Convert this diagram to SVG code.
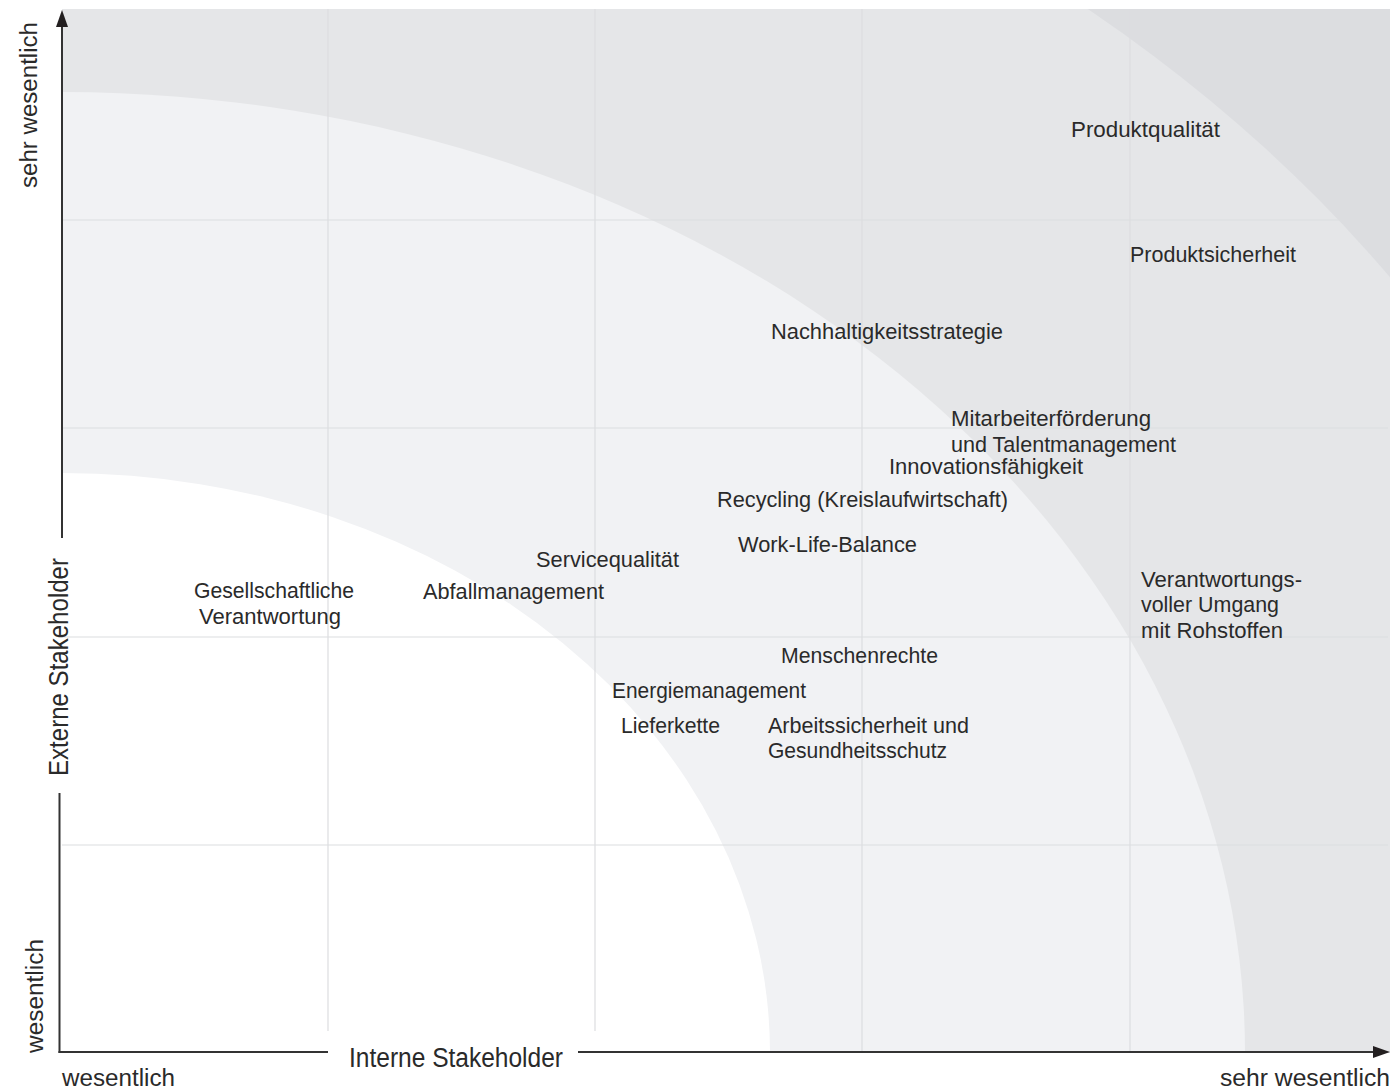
<svg xmlns="http://www.w3.org/2000/svg" width="1392" height="1092" viewBox="0 0 1392 1092">
  <defs>
    <clipPath id="plot">
      <rect x="62" y="9" width="1328" height="1044"/>
    </clipPath>
    <style>
      .lbl { font-family: "Liberation Sans", Arial, sans-serif; font-size: 22px; fill: #2a2a2a; }
      .ax { font-family: "Liberation Sans", Arial, sans-serif; font-size: 27px; fill: #2a2a2a; }
      .sc { font-family: "Liberation Sans", Arial, sans-serif; font-size: 23px; fill: #2a2a2a; }
      .grid { stroke: #dcdde0; stroke-width: 1.2; fill: none; }
      .axis { stroke: #333333; stroke-width: 2; fill: none; }
      .head { fill: #231f20; }
    </style>
  </defs>
  <rect width="1392" height="1092" fill="#ffffff"/>

  <g id="background" clip-path="url(#plot)">
    <rect x="62" y="9" width="1328" height="1044" fill="#dcdde0"/>
    <ellipse cx="62" cy="1053" rx="1625" ry="1346" fill="#e5e6e8"/>
    <ellipse cx="62" cy="1053" rx="1183" ry="961" fill="#f1f2f4"/>
    <ellipse cx="62" cy="1053" rx="708" ry="580" fill="#ffffff"/>
  </g>

  <g id="grid">
    <line class="grid" x1="328" y1="9" x2="328" y2="1031"/>
    <line class="grid" x1="595" y1="9" x2="595" y2="1031"/>
    <line class="grid" x1="862" y1="9" x2="862" y2="1052"/>
    <line class="grid" x1="1130" y1="9" x2="1130" y2="1052"/>
    <line class="grid" x1="62" y1="220" x2="1388" y2="220"/>
    <line class="grid" x1="62" y1="428" x2="1388" y2="428"/>
    <line class="grid" x1="62" y1="637" x2="1388" y2="637"/>
    <line class="grid" x1="62" y1="845" x2="1388" y2="845"/>
  </g>

  <g id="connectors">
    <line class="axis" x1="62" y1="24" x2="62" y2="538"/>
    <line class="axis" x1="59.5" y1="793" x2="59.5" y2="1053"/>
    <polygon class="head" points="62,10 56,27 68,27"/>
    <line class="axis" x1="58.5" y1="1052" x2="328" y2="1052"/>
    <line class="axis" x1="578" y1="1052" x2="1376" y2="1052"/>
    <polygon class="head" points="1390,1052 1373,1046 1373,1058"/>
  </g>

  <g id="axis-labels">
    <text class="ax" x="349" y="1067" textLength="214" lengthAdjust="spacingAndGlyphs">Interne Stakeholder</text>
    <text class="ax" transform="translate(68,776) rotate(-90)" textLength="218" lengthAdjust="spacingAndGlyphs">Externe Stakeholder</text>
    <text class="sc" transform="translate(37,188) rotate(-90)" textLength="166" lengthAdjust="spacingAndGlyphs">sehr wesentlich</text>
    <text class="sc" transform="translate(43,1053) rotate(-90)" textLength="114" lengthAdjust="spacingAndGlyphs">wesentlich</text>
    <text class="sc" x="62" y="1086" textLength="113" lengthAdjust="spacingAndGlyphs">wesentlich</text>
    <text class="sc" x="1220" y="1086" textLength="170" lengthAdjust="spacingAndGlyphs">sehr wesentlich</text>
  </g>

  <g id="produktqualitaet"><text class="lbl" x="1071" y="137" textLength="149" lengthAdjust="spacingAndGlyphs">Produktqualität</text></g>
  <g id="produktsicherheit"><text class="lbl" x="1130" y="262" textLength="166" lengthAdjust="spacingAndGlyphs">Produktsicherheit</text></g>
  <g id="nachhaltigkeitsstrategie"><text class="lbl" x="771" y="339" textLength="232" lengthAdjust="spacingAndGlyphs">Nachhaltigkeitsstrategie</text></g>
  <g id="mitarbeiterfoerderung">
    <text class="lbl" x="951" y="426" textLength="200" lengthAdjust="spacingAndGlyphs">Mitarbeiterförderung</text>
    <text class="lbl" x="951" y="452" textLength="225" lengthAdjust="spacingAndGlyphs">und Talentmanagement</text>
  </g>
  <g id="innovationsfaehigkeit"><text class="lbl" x="889" y="474" textLength="194" lengthAdjust="spacingAndGlyphs">Innovationsfähigkeit</text></g>
  <g id="recycling"><text class="lbl" x="717" y="507" textLength="291" lengthAdjust="spacingAndGlyphs">Recycling (Kreislaufwirtschaft)</text></g>
  <g id="work-life-balance"><text class="lbl" x="738" y="552" textLength="179" lengthAdjust="spacingAndGlyphs">Work-Life-Balance</text></g>
  <g id="servicequalitaet"><text class="lbl" x="536" y="567" textLength="143" lengthAdjust="spacingAndGlyphs">Servicequalität</text></g>
  <g id="abfallmanagement"><text class="lbl" x="423" y="599" textLength="181" lengthAdjust="spacingAndGlyphs">Abfallmanagement</text></g>
  <g id="gesellschaftliche-verantwortung">
    <text class="lbl" x="194" y="598" textLength="160" lengthAdjust="spacingAndGlyphs">Gesellschaftliche</text>
    <text class="lbl" x="199" y="624" textLength="142" lengthAdjust="spacingAndGlyphs">Verantwortung</text>
  </g>
  <g id="rohstoffe">
    <text class="lbl" x="1141" y="587" textLength="161" lengthAdjust="spacingAndGlyphs">Verantwortungs-</text>
    <text class="lbl" x="1141" y="612" textLength="138" lengthAdjust="spacingAndGlyphs">voller Umgang</text>
    <text class="lbl" x="1141" y="638" textLength="142" lengthAdjust="spacingAndGlyphs">mit Rohstoffen</text>
  </g>
  <g id="menschenrechte"><text class="lbl" x="781" y="663" textLength="157" lengthAdjust="spacingAndGlyphs">Menschenrechte</text></g>
  <g id="energiemanagement"><text class="lbl" x="612" y="698" textLength="194" lengthAdjust="spacingAndGlyphs">Energiemanagement</text></g>
  <g id="lieferkette"><text class="lbl" x="621" y="733" textLength="99" lengthAdjust="spacingAndGlyphs">Lieferkette</text></g>
  <g id="arbeitssicherheit">
    <text class="lbl" x="768" y="733" textLength="201" lengthAdjust="spacingAndGlyphs">Arbeitssicherheit und</text>
    <text class="lbl" x="768" y="758" textLength="179" lengthAdjust="spacingAndGlyphs">Gesundheitsschutz</text>
  </g>
</svg>
